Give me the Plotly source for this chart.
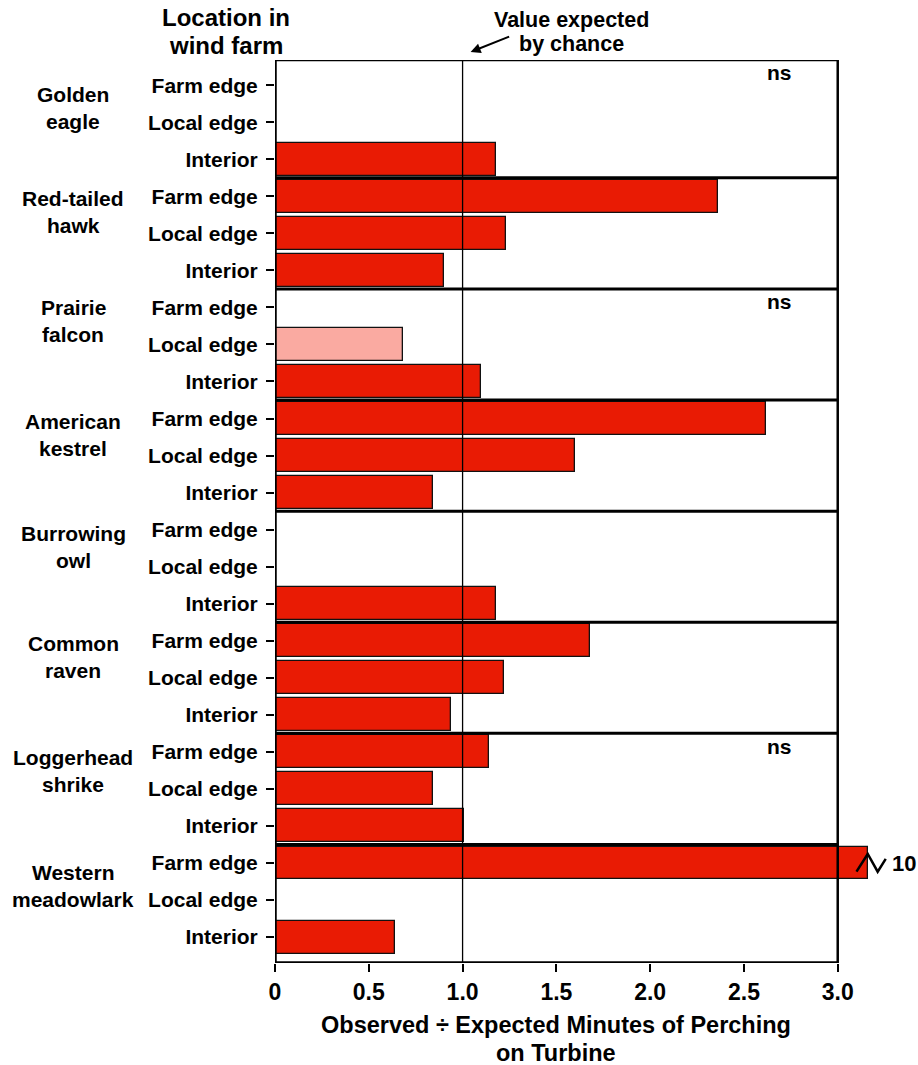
import plotly.graph_objects as go

# ---------------- data ----------------
species = ["Golden<br>eagle", "Red-tailed<br>hawk", "Prairie<br>falcon", "American<br>kestrel",
           "Burrowing<br>owl", "Common<br>raven", "Loggerhead<br>shrike", "Western<br>meadowlark"]
locations = ["Farm edge", "Local edge", "Interior"]

# observed / expected ratio per species: [farm edge, local edge, interior]  (None = no bar)
golden_eagle = [None, None, 1.18]
red_tailed_hawk = [2.36, 1.23, 0.90]
prairie_falcon = [None, 0.68, 1.10]
american_kestrel = [2.62, 1.60, 0.84]
burrowing_owl = [None, None, 1.18]
common_raven = [1.68, 1.22, 0.94]
loggerhead_shrike = [1.14, 0.84, 1.01]
western_meadowlark = [10.0, None, 0.64]

# bars drawn in the light colour (Prairie falcon, Local edge)
light_bars = [("Prairie<br>falcon", "Local edge")]
# species groups marked "ns"
ns_groups = ["Golden<br>eagle", "Prairie<br>falcon", "Loggerhead<br>shrike"]

x_ticks = [0, 0.5, 1.0, 1.5, 2.0, 2.5, 3.0]
x_tick_labels = ["0", "0.5", "1.0", "1.5", "2.0", "2.5", "3.0"]
chance_value = 1.0
axis_max = 3.0
break_display = 3.16   # where the off-scale bar is cut

all_values = [golden_eagle, red_tailed_hawk, prairie_falcon, american_kestrel,
              burrowing_owl, common_raven, loggerhead_shrike, western_meadowlark]

# ---------------- style ----------------
RED = "#E91B04"
PINK = "#FAAAA1"
FONT = "Liberation Sans, Arial, sans-serif"

W, H = 918, 1065
ML, MR, MT, MB = 275, 24, 60, 102
X_RANGE = [0, 3.3]
Y_TOP, Y_BOT = -0.68, 23.7

# ---------------- build ----------------
ys, xs, colors, off_scale = [], [], [], []
for gi, (sp, vals) in enumerate(zip(species, all_values)):
    for li, (loc, v) in enumerate(zip(locations, vals)):
        idx = gi * 3 + li
        ys.append(idx)
        if v is None:
            xs.append(None)
        elif v > axis_max:
            xs.append(break_display)
            off_scale.append((idx, v))
        else:
            xs.append(v)
        colors.append(PINK if (sp, loc) in light_bars else RED)

fig = go.Figure()
fig.add_trace(go.Bar(
    x=xs, y=ys, orientation="h", width=0.89,
    marker=dict(color=colors, line=dict(color="#111111", width=1.3)),
    hoverinfo="skip", showlegend=False,
))

tickvals = list(range(len(species) * 3))
ticktext = ["<b>%s</b>" % locations[i % 3] for i in tickvals]

fig.update_layout(
    width=W, height=H,
    margin=dict(l=ML, r=MR, t=MT, b=MB, pad=0),
    plot_bgcolor="white", paper_bgcolor="white",
    font=dict(family=FONT, color="black"),
    bargap=0,
    xaxis=dict(range=X_RANGE, tickvals=x_ticks,
               ticktext=["<b>%s</b>" % t for t in x_tick_labels],
               ticks="outside", ticklen=8, tickwidth=2, tickcolor="black",
               tickfont=dict(size=23, family=FONT),
               showgrid=False, zeroline=False, showline=False),
    yaxis=dict(range=[Y_BOT, Y_TOP], tickvals=tickvals, ticktext=ticktext,
               ticks="outside", ticklen=8, tickwidth=2, tickcolor="black",
               tickfont=dict(size=21, family=FONT), ticklabelstandoff=4,
               showgrid=False, zeroline=False, showline=False),
)

shapes = []
# frame
shapes.append(dict(type="line", xref="x", yref="y", x0=0, x1=0, y0=Y_TOP, y1=Y_BOT,
                   line=dict(color="black", width=3.5), layer="above"))
shapes.append(dict(type="line", xref="x", yref="y", x0=0, x1=axis_max, y0=Y_BOT, y1=Y_BOT,
                   line=dict(color="black", width=3.5), layer="above"))
shapes.append(dict(type="line", xref="x", yref="y", x0=0, x1=axis_max, y0=Y_TOP, y1=Y_TOP,
                   line=dict(color="black", width=2.5), layer="above"))
shapes.append(dict(type="line", xref="x", yref="y", x0=axis_max, x1=axis_max, y0=Y_TOP, y1=Y_BOT,
                   line=dict(color="black", width=2.5), layer="above"))
# group separators
for gi in range(1, len(species)):
    yy = gi * 3 - 0.5
    shapes.append(dict(type="line", xref="x", yref="y", x0=0, x1=axis_max, y0=yy, y1=yy,
                       line=dict(color="black", width=3), layer="above"))
# chance line
shapes.append(dict(type="line", xref="x", yref="y", x0=chance_value, x1=chance_value,
                   y0=Y_TOP, y1=Y_BOT, line=dict(color="black", width=1.3), layer="above"))
# axis-break zigzag for off-scale bars
for idx, v in off_scale:
    path = "M %f %f L %f %f L %f %f L %f %f" % (
        break_display - 0.06, idx + 0.235,
        break_display, idx - 0.243,
        break_display + 0.053, idx + 0.235,
        break_display + 0.096, idx - 0.11)
    shapes.append(dict(type="path", xref="x", yref="y", path=path,
                       line=dict(color="black", width=2.5), layer="above"))
fig.update_layout(shapes=shapes)

ann = []
bold = lambda s: "<b>%s</b>" % s

def px_to_paper_x(px):
    return (px - ML) / (W - ML - MR)

def px_to_paper_y(py):
    return (H - MB - py) / (H - MT - MB)

# group labels
label_offsets = [0.62, 0.42, 0.36, 0.45, 0.47, 0.45, 0.51, 0.62]
for gi, sp in enumerate(species):
    lines = sp.split("<br>")
    yc = gi * 3 + label_offsets[gi]
    for k, ln in enumerate(lines):
        ann.append(dict(text=bold(ln), xref="paper", yref="y", x=px_to_paper_x(73), y=yc,
                        yshift=13.5 if k == 0 else -13.5,
                        xanchor="center", yanchor="middle", showarrow=False,
                        font=dict(size=21, family=FONT)))

# "ns" labels
for sp in ns_groups:
    gi = species.index(sp)
    top = Y_TOP if gi == 0 else gi * 3 - 0.5
    ann.append(dict(text=bold("ns"), xref="x", yref="y", x=2.69, y=top + 0.35,
                    xanchor="center", yanchor="middle", showarrow=False,
                    font=dict(size=21, family=FONT)))

# off-scale value labels
for idx, v in off_scale:
    ann.append(dict(text=bold("%g" % v), xref="x", yref="y", x=break_display + 0.12, y=idx,
                    xanchor="left", yanchor="middle", showarrow=False,
                    font=dict(size=22, family=FONT)))

# column header
for k, ln in enumerate(["Location in", "wind farm"]):
    ann.append(dict(text=bold(ln), xref="paper", yref="paper", x=px_to_paper_x(226),
                    y=px_to_paper_y(18 if k == 0 else 46), xanchor="center", yanchor="middle",
                    showarrow=False, font=dict(size=24, family=FONT)))

# chance annotation
for k, ln in enumerate(["Value expected", "by chance"]):
    ann.append(dict(text=bold(ln), xref="paper", yref="paper", x=px_to_paper_x(571),
                    y=px_to_paper_y(20 if k == 0 else 44), xanchor="center", yanchor="middle",
                    showarrow=False, font=dict(size=21.5, family=FONT)))
ann.append(dict(text="", xref="x", yref="paper", x=chance_value + 0.043, y=px_to_paper_y(52),
                ax=40, ay=-16, showarrow=True, arrowhead=2, arrowsize=1, arrowwidth=2,
                arrowcolor="black", standoff=0, startstandoff=0))

# x-axis title
for k, ln in enumerate(["Observed ÷ Expected Minutes of Perching", "on Turbine"]):
    ann.append(dict(text=bold(ln), xref="x", yref="paper", x=axis_max / 2,
                    y=px_to_paper_y(1025 if k == 0 else 1053), xanchor="center", yanchor="middle",
                    showarrow=False, font=dict(size=23.5, family=FONT)))

fig.update_layout(annotations=ann)
fig.write_html(
    "out.html",
    config={"displayModeBar": False},
    post_script="document.body.style.margin='0';document.body.style.overflow='hidden';",
)
